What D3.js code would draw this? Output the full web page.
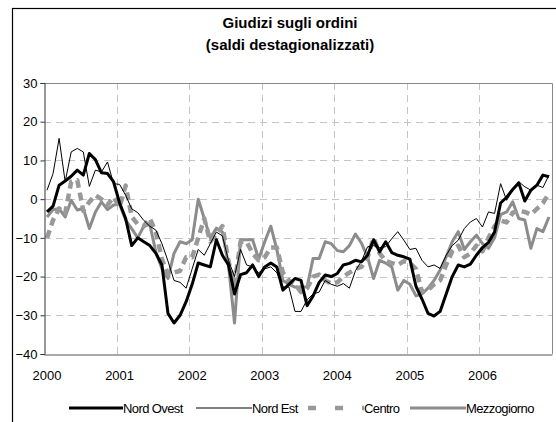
<!DOCTYPE html>
<html><head><meta charset="utf-8">
<script src="https://cdn.jsdelivr.net/npm/d3@7"></script>
<style>
html,body{margin:0;padding:0;background:#fff;}
svg{display:block;font-family:"Liberation Sans",Arial,sans-serif;}
</style></head>
<body><svg id="c" width="556" height="422"></svg>
<script>
const years = ["2000","2001","2002","2003","2004","2005","2006"];
const yTicks = [-40,-30,-20,-10,0,10,20,30];
const titleLines = ["Giudizi sugli ordini","(saldi destagionalizzati)"];
const seriesNames = ["Nord Ovest","Nord Est","Centro","Mezzogiorno"];

const nordOvest = [
 -3.3,-1.8,3.6,4.7,5.9,7.5,6.2,11.8,10.2,6.8,6.6,4.5,
 -1,-5,-12,-10,-11,-12,-14,-17,-29.5,-32,-30,-26.5,
 -22,-16.5,-17,-17.5,-10.5,-14.5,-17,-24.5,-19.5,-19,-17,-20,
 -17.5,-16.5,-17.5,-23.5,-22,-20.5,-21,-27.5,-25,-21.5,-19.6,-20,
 -19.2,-17,-16.6,-15.8,-16.2,-14.5,-10.5,-13.6,-11,-13.8,-14.5,-14.9,
 -15.5,-22.5,-25.8,-29.5,-30.2,-29,-24.5,-20,-17,-17.5,-16.8,-14.5,
 -12.5,-11.2,-8.5,-1,0.5,2.5,4.2,-0.5,2.3,3.6,6.2,5.8];
const nordEst = [
 2.3,6.6,15.7,4.5,12.2,13.1,12.2,3.3,7.5,7,9.6,4,
 3.8,1,-2.5,-3.5,-5.5,-7,-8,-11.5,-16,-21,-21.5,-23,
 -18,-13,-14.5,-11.5,-8.5,-9.5,-15.8,-20,-13,-17,-17.5,-19,
 -18,-17.5,-19,-22.7,-22.7,-29,-29,-26,-24.5,-24,-21,-22,
 -22.5,-21.8,-23,-18.5,-16,-12.3,-12,-12.5,-12.3,-10.2,-8.4,-10.6,
 -13,-12.7,-15.8,-17.5,-17,-17.9,-14.5,-12,-10.6,-7.6,-5.9,-5,
 -7.2,-3.3,-3.7,4,-0.3,2.3,4.5,3.2,2.3,3.6,3,6.2];
const centro = [
 -10,-5.4,-2.4,-3.7,4.5,4.9,-3,-0.7,1,0,-1.5,0.5,
 -2,3.5,-4.5,-6.5,-7,-5,-8.5,-15.5,-19.5,-19,-18.5,-15,
 -15,-10,-5,-11,-9,-7,-16,-22,-11,-11,-14,-15.8,
 -15,-12.5,-12.5,-19,-21,-22,-24,-23,-20,-19.5,-21,-21.8,
 -21.5,-20,-19,-18,-17.5,-15,-10,-14,-16,-16.5,-17,-16,
 -16.5,-18,-24,-23.5,-22,-21,-17,-13.5,-12,-15,-14,-12,
 -13.5,-10,-7,-5.5,-6,-3.5,-3,-3.3,-4,-2.5,-1,1.5];
const mezzogiorno = [
 -4.6,-2.7,-2.5,-4.6,-0.3,-2.8,-2.4,-7.6,-3.3,-0.7,-2.7,-1.5,
 -1.3,-5.4,-7.6,-10,-7,-6.5,-13.7,-18,-20.5,-14,-11,-11.5,
 -10.5,0,-5,-10,-7.5,-8.5,-17,-32,-10.5,-10.5,-10.5,-15.5,
 -11,-7,-13,-21,-22,-22.7,-22.7,-22.7,-15.3,-15.3,-11,-11.5,
 -13.3,-13.6,-12,-9,-11.4,-15,-20.5,-15.8,-16.5,-17.5,-23.5,-21,
 -22,-25,-24.5,-23,-21,-18.3,-14.9,-11,-8.4,-13,-11,-9.3,
 -11.5,-12.7,-10,-4,-3.3,-0.7,-5,-5.4,-12.7,-7.6,-8.4,-4.6];

const months = [];
years.forEach(yr => { for (let m = 1; m <= 12; m++) months.push(yr + "-" + String(m).padStart(2,"0")); });

const series = [
  {name: seriesNames[0], values: nordOvest, color: "#000", width: 3, dash: null, legendDash: null},
  {name: seriesNames[1], values: nordEst, color: "#000", width: 1, dash: null, legendDash: null},
  {name: seriesNames[2], values: centro, color: "#999", width: 4.5, dash: "8,5", legendDash: "8,19"},
  {name: seriesNames[3], values: mezzogiorno, color: "#8c8c8c", width: 3, dash: null, legendDash: null}
];

const svg = d3.select("#c");
const pL = 44, pR = 552, pT = 83, pB = 354;

svg.append("rect").attr("x",12.5).attr("y",8.5).attr("width",600).attr("height",500)
  .attr("fill","none").attr("stroke","#000").attr("stroke-width",1.2);

const x = d3.scaleBand().domain(months).range([pL,pR]).paddingInner(0).paddingOuter(0);
const xc = d => x(d) + x.bandwidth()/2;
const y = d3.scaleLinear().domain([-40,30]).range([pB,pT]);

svg.append("g").selectAll("line").data(yTicks.filter(t => t > -40 && t < 30)).join("line")
  .attr("x1",pL).attr("x2",pR).attr("y1",d=>Math.round(y(d))+0.5).attr("y2",d=>Math.round(y(d))+0.5)
  .attr("stroke","#c4c4c4").attr("stroke-dasharray","7,5").attr("stroke-width",1);
svg.append("g").selectAll("line").data(years.slice(1)).join("line")
  .attr("x1",d=>Math.round(x(d+"-01"))+0.5).attr("x2",d=>Math.round(x(d+"-01"))+0.5)
  .attr("y1",pT).attr("y2",pB)
  .attr("stroke","#c4c4c4").attr("stroke-dasharray","7,5").attr("stroke-width",1);

svg.append("path").attr("d",`M${pL},${pT+0.5}H${pR+0.5}V${pB}`)
  .attr("fill","none").attr("stroke","#888").attr("stroke-width",1);

const line = d3.line().x((d,i)=>xc(months[i])).y(d=>y(d));
series.slice().reverse().forEach(s => {
  svg.append("path").datum(s.values).attr("d",line)
    .attr("fill","none").attr("stroke",s.color).attr("stroke-width",s.width)
    .attr("stroke-linejoin","round")
    .attr("stroke-dasharray",s.dash);
});

const yAxis = d3.axisLeft(y).tickValues(yTicks).tickSize(4).tickPadding(3).tickFormat(d3.format("d"));
const gy = svg.append("g").attr("transform",`translate(${pL+0.5},0)`).call(yAxis);
gy.select(".domain").attr("stroke","#333");
gy.selectAll(".tick line").attr("stroke","#333");
gy.selectAll("text").attr("font-size",13).attr("fill","#000").attr("font-family","Liberation Sans, Arial, sans-serif");

const xAxis = d3.axisBottom(x).tickValues(years.map(yv=>yv+"-01")).tickSize(0).tickPadding(16)
  .tickFormat(d=>d.slice(0,4));
const gx = svg.append("g").attr("transform",`translate(0,${pB+0.5})`).call(xAxis);
gx.select(".domain").attr("stroke","#555");
gx.selectAll("text").attr("font-size",13).attr("fill","#000").attr("font-family","Liberation Sans, Arial, sans-serif");

svg.append("g").selectAll("text").data(titleLines).join("text")
  .attr("x",290).attr("y",(d,i)=>28+i*22).attr("text-anchor","middle")
  .attr("font-size",15).attr("font-weight","bold").text(d=>d);

const legendX = [69,196,308,410];
const legendW = [54,56,56,56];
const lg = svg.append("g");
series.forEach((s,i)=>{
  lg.append("line").attr("x1",legendX[i]).attr("x2",legendX[i]+legendW[i]).attr("y1",408).attr("y2",408)
    .attr("stroke",s.color).attr("stroke-width",s.width).attr("stroke-dasharray",s.legendDash);
  lg.append("text").attr("x",legendX[i]+legendW[i]).attr("y",412.5).attr("font-size",13)
    .attr("letter-spacing","-0.6").text(s.name);
});
</script></body></html>
